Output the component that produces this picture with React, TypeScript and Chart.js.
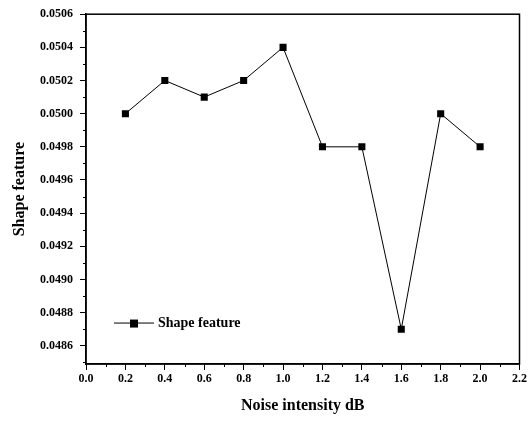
import React, { useEffect, useRef } from "react";
import { Chart, registerables } from "chart.js";

Chart.register(...registerables);

const noiseIntensity = [0.2, 0.4, 0.6, 0.8, 1.0, 1.2, 1.4, 1.6, 1.8, 2.0];
const shapeFeature = [0.05, 0.0502, 0.0501, 0.0502, 0.0504, 0.0498, 0.0498, 0.0487, 0.05, 0.0498];
const xTicks = [0, 0.2, 0.4, 0.6, 0.8, 1.0, 1.2, 1.4, 1.6, 1.8, 2.0, 2.2];
const yTicks = [0.0486, 0.0488, 0.049, 0.0492, 0.0494, 0.0496, 0.0498, 0.05, 0.0502, 0.0504, 0.0506];
const xMinor = [0.1, 0.3, 0.5, 0.7, 0.9, 1.1, 1.3, 1.5, 1.7, 1.9, 2.1];
const yMinor = [0.0485, 0.0487, 0.0489, 0.0491, 0.0493, 0.0495, 0.0497, 0.0499, 0.0501, 0.0503, 0.0505];
const seriesLabel = "Shape feature";
const xTitle = "Noise intensity dB";
const yTitle = "Shape feature";

const FONT = "'Liberation Serif', 'DejaVu Serif', serif";

const decorPlugin = {
  id: "decor",
  afterDraw(chart: any) {
    const ctx = chart.ctx;
    const { left, right, top, bottom } = chart.chartArea;
    const xs = chart.scales.x;
    const ys = chart.scales.y;
    ctx.save();
    ctx.strokeStyle = "#000";
    ctx.lineWidth = 1.5;
    ctx.strokeRect(left, top, right - left, bottom - top);
    ctx.lineWidth = 1;
    ctx.beginPath();
    xMinor.forEach((v) => {
      const px = Math.round(xs.getPixelForValue(v)) + 0.5;
      ctx.moveTo(px, bottom);
      ctx.lineTo(px, bottom + 3);
    });
    yMinor.forEach((v) => {
      const py = Math.round(ys.getPixelForValue(v)) + 0.5;
      if (py <= bottom) {
        ctx.moveTo(left, py);
        ctx.lineTo(left - 3, py);
      }
    });
    ctx.stroke();
    // legend
    const lx = left + 28;
    const ly = ys.getPixelForValue(0.04874);
    ctx.beginPath();
    ctx.lineWidth = 1;
    ctx.moveTo(lx, ly + 0.5);
    ctx.lineTo(lx + 40, ly + 0.5);
    ctx.stroke();
    ctx.fillStyle = "#000";
    ctx.fillRect(lx + 16, ly - 3, 8, 8);
    ctx.font = "bold 14px " + FONT;
    ctx.textBaseline = "middle";
    ctx.fillText(seriesLabel, lx + 44, ly + 1);
    ctx.restore();
  },
};

export default function App() {
  const ref = useRef<HTMLCanvasElement | null>(null);
  useEffect(() => {
    document.body.style.margin = "0";
    const chart = new Chart(ref.current as HTMLCanvasElement, {
      type: "line",
      data: {
        datasets: [
          {
            label: seriesLabel,
            data: noiseIntensity.map((x, i) => ({ x, y: shapeFeature[i] })),
            borderColor: "#000",
            backgroundColor: "#000",
            borderWidth: 1,
            pointStyle: "rect",
            pointRadius: 5,
            pointBorderWidth: 0,
            tension: 0,
          },
        ],
      },
      options: {
        animation: false,
        responsive: false,
        layout: { padding: { top: 13, right: 7, left: 0, bottom: 0 } },
        plugins: { legend: { display: false }, tooltip: { enabled: false } },
        scales: {
          x: {
            type: "linear",
            min: 0,
            max: 2.2,
            afterBuildTicks: (s: any) => {
              s.ticks = xTicks.map((v) => ({ value: v }));
            },
            afterFit: (s: any) => {
              s.height = 57;
            },
            grid: { drawOnChartArea: false, tickLength: 6, color: "#000", lineWidth: 1 },
            border: { color: "#000", width: 1.5 },
            ticks: {
              color: "#000",
              font: { family: FONT, size: 12, weight: "bold" },
              padding: 2,
              maxRotation: 0,
              autoSkip: false,
              callback: (v: any) => Number(v).toFixed(1),
            },
            title: {
              display: true,
              text: xTitle,
              color: "#000",
              font: { family: FONT, size: 16, weight: "bold" },
              padding: { top: 0, bottom: 6 },
            },
          },
          y: {
            type: "linear",
            min: 0.04849,
            max: 0.0506,
            afterBuildTicks: (s: any) => {
              s.ticks = yTicks.map((v) => ({ value: v }));
            },
            afterFit: (s: any) => {
              s.width = 86;
            },
            grid: { drawOnChartArea: false, tickLength: 6, color: "#000", lineWidth: 1 },
            border: { color: "#000", width: 1.5 },
            ticks: {
              color: "#000",
              font: { family: FONT, size: 12, weight: "bold" },
              padding: 7,
              autoSkip: false,
              callback: (v: any) => Number(v).toFixed(4),
            },
            title: {
              display: true,
              text: yTitle,
              color: "#000",
              font: { family: FONT, size: 16, weight: "bold" },
              padding: { top: 10, bottom: 0 },
            },
          },
        },
      },
      plugins: [decorPlugin],
    } as any);
    return () => chart.destroy();
  }, []);
  return (
    <div style={{ position: "absolute", left: 0, top: 0, width: 529, height: 421, background: "#fff" }}>
      <canvas ref={ref} width={529} height={421} style={{ display: "block" }} />
    </div>
  );
}
